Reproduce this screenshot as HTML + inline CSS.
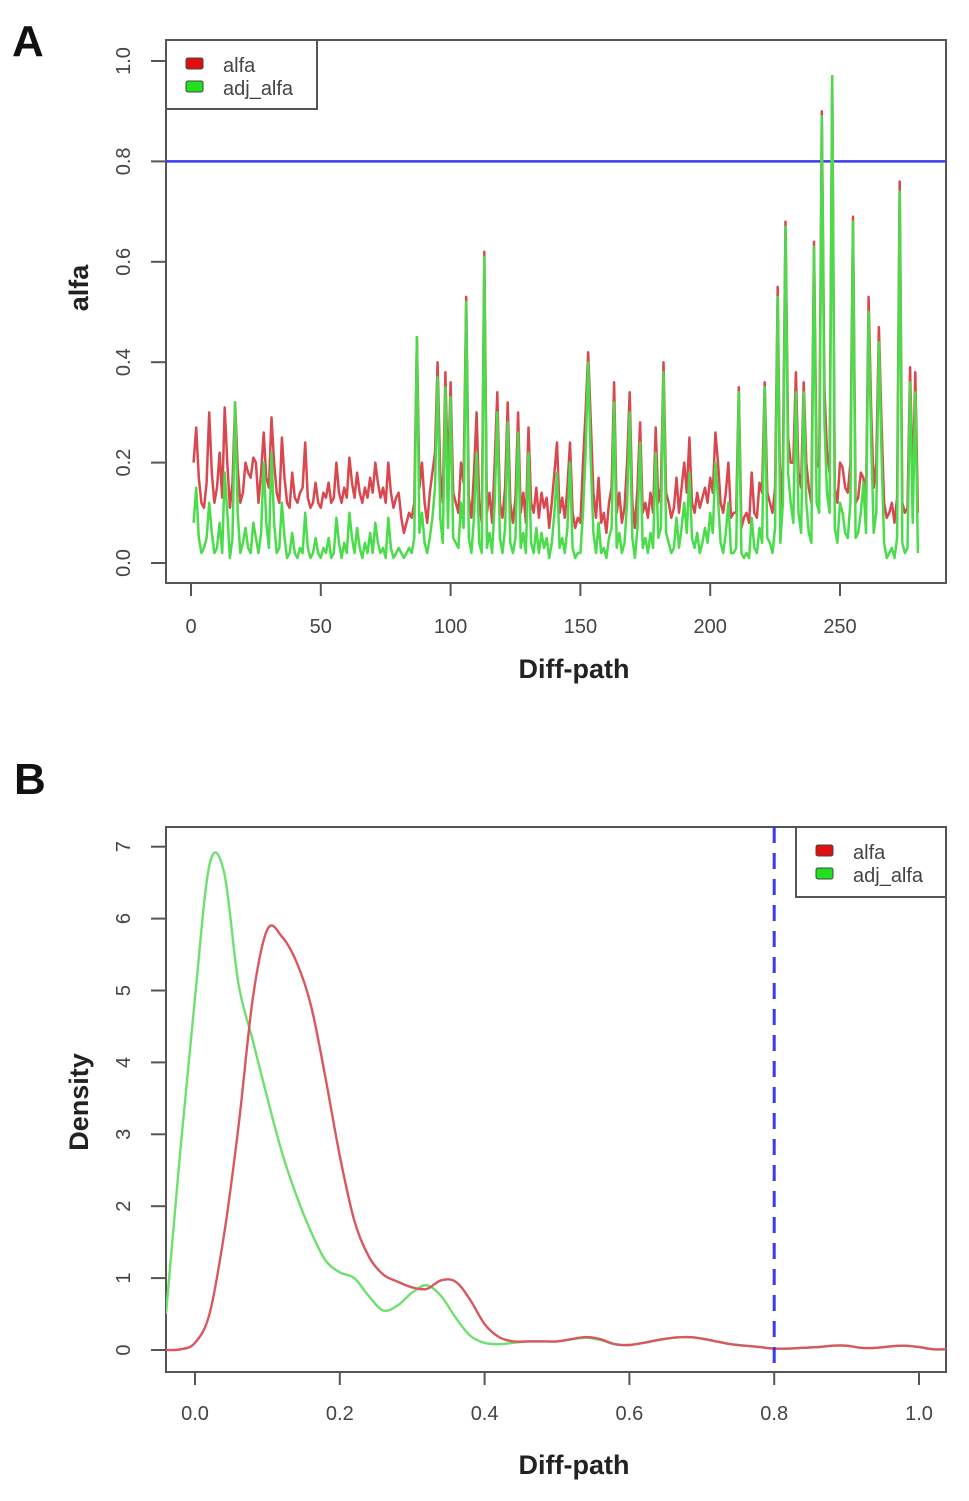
<!DOCTYPE html>
<html><head><meta charset="utf-8">
<style>
html,body{margin:0;padding:0;background:#fff;}
svg{display:block;font-family:"Liberation Sans",Arial,sans-serif;}
.tk{fill:#444;font-size:20px;}
.ax{fill:#222;font-size:27px;font-weight:bold;}
</style></head>
<body>
<svg id="fig" width="969" height="1501" viewBox="0 0 969 1501" xmlns="http://www.w3.org/2000/svg">
<text x="12" y="56" font-size="44" font-weight="bold" fill="#111">A</text>
<text x="14" y="794" font-size="44" font-weight="bold" fill="#111">B</text>
<g id="pa"></g>
<g id="pb"></g>
</svg>
<script>
// Panel A data (index 1..280)
const alfaVals = [
.20,.27,.17,.12,.11,.16,.30,.18,.12,.15,
.22,.13,.31,.20,.11,.16,.32,.19,.12,.14,
.20,.18,.17,.21,.20,.12,.18,.26,.17,.15,
.29,.20,.14,.12,.25,.17,.12,.11,.18,.13,
.12,.14,.15,.24,.13,.11,.12,.16,.12,.11,
.14,.13,.16,.12,.13,.20,.14,.12,.15,.13,
.21,.16,.13,.18,.14,.12,.15,.13,.17,.14,
.20,.16,.13,.15,.12,.20,.14,.11,.13,.14,
.09,.06,.08,.10,.09,.12,.45,.15,.20,.12,
.08,.14,.18,.22,.40,.18,.12,.38,.16,.36,
.14,.12,.10,.20,.16,.53,.13,.09,.18,.30,
.12,.08,.62,.10,.14,.08,.20,.34,.12,.09,
.15,.32,.12,.08,.13,.30,.10,.14,.08,.27,
.12,.10,.15,.09,.14,.11,.13,.07,.12,.18,
.24,.10,.13,.09,.15,.24,.10,.07,.09,.08,
.20,.30,.42,.28,.14,.09,.17,.08,.10,.06,
.12,.15,.36,.10,.14,.08,.11,.20,.34,.12,
.07,.15,.28,.10,.12,.09,.14,.10,.27,.12,
.15,.40,.14,.12,.09,.11,.17,.10,.15,.20,
.14,.25,.12,.10,.14,.11,.13,.15,.12,.17,
.14,.26,.20,.12,.10,.14,.20,.09,.10,.10,
.35,.07,.09,.10,.08,.18,.10,.09,.16,.14,
.36,.14,.12,.10,.15,.55,.10,.20,.68,.25,
.20,.20,.38,.18,.15,.36,.20,.15,.12,.64,
.20,.19,.90,.35,.22,.18,.97,.15,.12,.20,
.19,.15,.14,.20,.69,.12,.13,.18,.17,.12,
.53,.30,.15,.20,.47,.28,.12,.09,.10,.12,
.08,.13,.76,.12,.10,.11,.39,.15,.38,.10];
const adjVals = [
.08,.15,.05,.02,.03,.05,.12,.06,.02,.03,
.08,.02,.18,.10,.01,.05,.32,.10,.02,.04,
.07,.03,.02,.08,.05,.02,.06,.20,.08,.03,
.22,.08,.02,.03,.12,.05,.01,.02,.06,.02,
.01,.03,.02,.10,.03,.01,.02,.05,.02,.01,
.03,.02,.05,.01,.02,.09,.04,.01,.04,.02,
.10,.05,.02,.07,.03,.01,.04,.02,.06,.02,
.08,.04,.02,.03,.01,.09,.03,.01,.02,.03,
.02,.01,.02,.03,.02,.05,.45,.06,.10,.04,
.02,.05,.09,.15,.37,.09,.04,.35,.07,.33,
.05,.04,.03,.12,.07,.52,.05,.02,.09,.22,
.04,.02,.61,.03,.06,.02,.12,.30,.05,.02,
.07,.28,.04,.02,.05,.26,.03,.06,.02,.22,
.04,.02,.07,.02,.06,.03,.05,.01,.04,.10,
.18,.03,.05,.02,.07,.20,.03,.01,.02,.02,
.10,.22,.40,.20,.06,.02,.08,.02,.03,.01,
.05,.07,.32,.03,.06,.02,.04,.12,.30,.05,
.01,.07,.24,.03,.05,.02,.06,.03,.22,.05,
.07,.38,.06,.04,.02,.03,.09,.03,.07,.12,
.06,.18,.05,.03,.06,.02,.04,.07,.04,.10,
.06,.20,.13,.04,.02,.06,.12,.02,.02,.03,
.34,.02,.01,.02,.01,.09,.03,.02,.07,.04,
.35,.05,.04,.02,.07,.53,.04,.12,.67,.18,
.12,.08,.34,.10,.06,.34,.12,.06,.04,.63,
.12,.10,.89,.28,.14,.10,.97,.07,.04,.12,
.10,.06,.05,.12,.68,.05,.06,.10,.16,.06,
.50,.24,.06,.10,.44,.22,.04,.01,.02,.03,
.01,.05,.74,.04,.02,.03,.36,.08,.34,.02];
const aXTicks = [0,50,100,150,200,250];
const aYTicks = ["0.0","0.2","0.4","0.6","0.8","1.0"];
const aThreshold = 0.8;

// Panel B density data
const densX = [-0.04,-0.02,0,0.02,0.04,0.06,0.08,0.10,0.12,0.14,0.16,0.18,0.20,0.22,0.24,0.26,0.28,0.30,0.32,0.34,0.36,0.38,0.40,0.42,0.44,0.46,0.48,0.50,0.52,0.54,0.56,0.58,0.60,0.62,0.64,0.66,0.68,0.70,0.72,0.74,0.76,0.78,0.80,0.82,0.84,0.86,0.88,0.90,0.92,0.94,0.96,0.98,1.00,1.02,1.04];
const densAlfa = [0.0,0.01,0.1,0.5,1.6,3.1,4.9,5.85,5.75,5.4,4.8,3.8,2.7,1.8,1.3,1.05,0.95,0.87,0.85,0.97,0.95,0.7,0.36,0.18,0.12,0.12,0.12,0.12,0.15,0.18,0.15,0.08,0.07,0.1,0.14,0.17,0.18,0.16,0.12,0.08,0.06,0.04,0.02,0.02,0.03,0.04,0.06,0.06,0.03,0.03,0.05,0.06,0.04,0.01,0.01];
const densAdj = [0.5,2.8,4.9,6.75,6.65,5.1,4.3,3.5,2.75,2.15,1.65,1.25,1.08,1.0,0.75,0.55,0.62,0.8,0.9,0.75,0.45,0.2,0.1,0.08,0.1,0.12,0.12,0.12,0.15,0.17,0.14,0.08,0.07,0.1,0.14,0.17,0.18,0.16,0.12,0.08,0.06,0.04,0.02,0.02,0.03,0.04,0.06,0.06,0.03,0.03,0.05,0.06,0.04,0.01,0.01];
const bXTicks = ["0.0","0.2","0.4","0.6","0.8","1.0"];
const bYTicks = [0,1,2,3,4,5,6,7];
const bThreshold = 0.8;

const NS="http://www.w3.org/2000/svg";
function mk(tag, parent, attrs){const e=document.createElementNS(NS,tag);for(const k in attrs)e.setAttribute(k,attrs[k]);parent.appendChild(e);return e;}

// ---- Panel A ----
const pa=document.getElementById('pa');
const ax=i=>191+i*2.596, ay=v=>563-v*502;
const AL=166,AR=946,AT=40,AB=583;
let e;
e=mk('rect',pa,{x:AL,y:AT,width:AR-AL,height:AB-AT,fill:'none',stroke:'#555','stroke-width':2});


e=mk('line',pa,{x1:AL,x2:AR,y1:ay(aThreshold),y2:ay(aThreshold),stroke:'#3a3aee','stroke-width':2.5});


function series(vals,color,name){
  const d=vals.map((v,i)=>(i?'L':'M')+ax(i+1).toFixed(1)+','+ay(v).toFixed(1)).join('');
  const p=mk('path',pa,{d:d,fill:'none',stroke:color,'stroke-width':2.5,'stroke-linejoin':'round'});
  
  
}
series(alfaVals,'#d9474f','alfa-series');
series(adjVals,'#4bdc4b','adj-alfa-series');
aXTicks.forEach(t=>{
  e=mk('line',pa,{x1:ax(t),x2:ax(t),y1:AB,y2:AB+13,stroke:'#555','stroke-width':2});
  
  
  e=mk('text',pa,{x:ax(t),y:633,'text-anchor':'middle',class:'tk'});e.textContent=t;
  
  
});
aYTicks.forEach(t=>{
  const y=ay(parseFloat(t));
  e=mk('line',pa,{x1:151,x2:AL,y1:y,y2:y,stroke:'#555','stroke-width':2});
  
  
  e=mk('text',pa,{x:0,y:0,'text-anchor':'middle',class:'tk',transform:`translate(130,${y}) rotate(-90)`});e.textContent=t;
  
  
});
e=mk('text',pa,{x:574,y:678,'text-anchor':'middle',class:'ax'});e.textContent='Diff-path';


e=mk('text',pa,{x:0,y:0,'text-anchor':'middle',class:'ax',transform:'translate(88,288) rotate(-90)'});e.textContent='alfa';


function legend(g,x,y,w,h,nm){
  const lg=mk('g',g,{});
  
  
  mk('rect',lg,{x:x,y:y,width:w,height:h,fill:'#fff',stroke:'#555','stroke-width':2});
  e=mk('rect',lg,{x:x+20,y:y+18,width:17,height:11,rx:2,fill:'#e01010',stroke:'#444'});
  
  
  e=mk('rect',lg,{x:x+20,y:y+41,width:17,height:11,rx:2,fill:'#20e020',stroke:'#444'});
  
  
  e=mk('text',lg,{x:x+57,y:y+32,fill:'#444','font-size':20});e.textContent='alfa';
  
  
  e=mk('text',lg,{x:x+57,y:y+55,fill:'#444','font-size':20});e.textContent='adj_alfa';
  
  
}
legend(pa,AL,AT,151,69,'legend-a');

// ---- Panel B ----
const pb=document.getElementById('pb');
const bx=v=>195+v*724, by=v=>1350-v*71.9;
const BL=166,BR=946,BT=827,BB=1372;
e=mk('rect',pb,{x:BL,y:BT,width:BR-BL,height:BB-BT,fill:'none',stroke:'#555','stroke-width':2});


function smooth(xs,ys){
  const P=xs.map((x,i)=>[bx(x),by(ys[i])]);
  let d='M'+P[0][0].toFixed(1)+','+P[0][1].toFixed(1);
  for(let i=0;i<P.length-1;i++){
    const p0=P[i-1]||P[i],p1=P[i],p2=P[i+1],p3=P[i+2]||P[i+1];
    const c1=[p1[0]+(p2[0]-p0[0])/6,p1[1]+(p2[1]-p0[1])/6];
    const c2=[p2[0]-(p3[0]-p1[0])/6,p2[1]-(p3[1]-p1[1])/6];
    d+=`C${c1[0].toFixed(1)},${c1[1].toFixed(1)} ${c2[0].toFixed(1)},${c2[1].toFixed(1)} ${p2[0].toFixed(1)},${p2[1].toFixed(1)}`;
  }
  return d;
}
const cp=mk('clipPath',pb,{id:'cb'});mk('rect',cp,{x:BL,y:BT,width:BR-BL,height:BB-BT});
e=mk('path',pb,{d:smooth(densX,densAdj),fill:'none',stroke:'#6fe06f','stroke-width':2.4,'clip-path':'url(#cb)'});


e=mk('path',pb,{d:smooth(densX,densAlfa),fill:'none',stroke:'#d9575f','stroke-width':2.4,'clip-path':'url(#cb)'});


e=mk('line',pb,{x1:bx(bThreshold),x2:bx(bThreshold),y1:BT,y2:BB,stroke:'#3a3aee','stroke-width':3,'stroke-dasharray':'16,10'});


bXTicks.forEach(t=>{
  const x=bx(parseFloat(t));
  e=mk('line',pb,{x1:x,x2:x,y1:BB,y2:BB+13,stroke:'#555','stroke-width':2});
  
  
  e=mk('text',pb,{x:x,y:1420,'text-anchor':'middle',class:'tk'});e.textContent=t;
  
  
});
bYTicks.forEach(t=>{
  const y=by(t);
  e=mk('line',pb,{x1:151,x2:BL,y1:y,y2:y,stroke:'#555','stroke-width':2});
  
  
  e=mk('text',pb,{x:0,y:0,'text-anchor':'middle',class:'tk',transform:`translate(130,${y}) rotate(-90)`});e.textContent=t;
  
  
});
e=mk('text',pb,{x:574,y:1474,'text-anchor':'middle',class:'ax'});e.textContent='Diff-path';


e=mk('text',pb,{x:0,y:0,'text-anchor':'middle',class:'ax',transform:'translate(88,1102) rotate(-90)'});e.textContent='Density';


legend(pb,796,BT,150,70,'legend-b');
</script>
</body></html>
